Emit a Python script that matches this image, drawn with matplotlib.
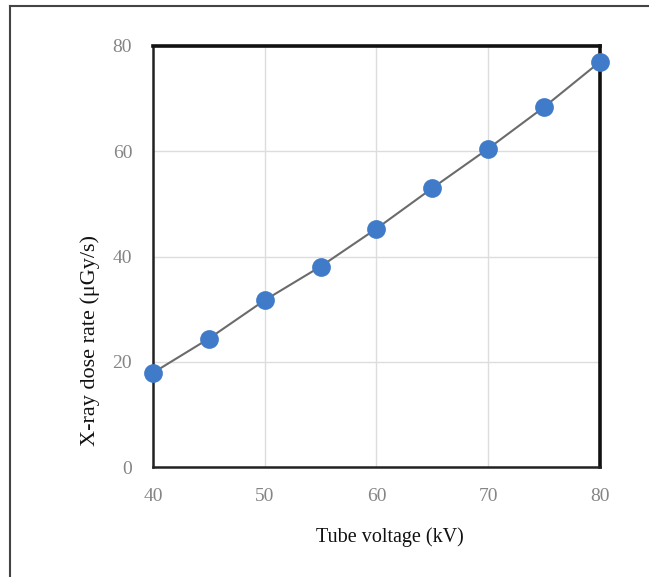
import matplotlib
matplotlib.use("Agg")
import matplotlib.pyplot as plt
from matplotlib.lines import Line2D

# tensión del tubo (kV) y tasa de dosis (uGy/s)
voltaje = [40, 45, 50, 55, 60, 65, 70, 75, 80]
dosis = [17.9, 24.4, 31.7, 38.1, 45.3, 53.0, 60.5, 68.4, 77.0]
ticks_x = [40, 50, 60, 70, 80]
ticks_y = [0, 20, 40, 60, 80]

plt.rcParams['font.family'] = ['Liberation Serif', 'DejaVu Serif']

fig = plt.figure(figsize=(6.49, 5.77), dpi=100)
ax = fig.add_axes([0.2357, 0.1906, 0.6888, 0.7297])

ax.plot(voltaje, dosis, color='#6b6b6b', linewidth=1.5, zorder=2)
ax.plot(voltaje, dosis, linestyle='none', marker='o', markersize=13.5,
        color='#3f7bc8', markeredgewidth=0, zorder=3, clip_on=False)

ax.set_xlim(40, 80)
ax.set_ylim(0, 80)
ax.set_xticks(ticks_x)
ax.set_yticks(ticks_y)
ax.grid(True, color='#dddddd', linewidth=1)
ax.set_axisbelow(True)
ax.tick_params(length=0, labelsize=14, labelcolor='#858585')
ax.tick_params(axis='x', pad=15)
ax.tick_params(axis='y', pad=15)

for lado in ['left', 'bottom']:
    ax.spines[lado].set_linewidth(1.8)
    ax.spines[lado].set_color('#222222')
for lado in ['top', 'right']:
    ax.spines[lado].set_linewidth(2.6)
    ax.spines[lado].set_color('#111111')

ax.set_xlabel("Tube voltage (kV)", fontsize=14.5, labelpad=16, color='#111111')
ax.set_ylabel("X-ray dose rate (\u03bcGy/s)", fontsize=16, labelpad=9, color='#111111')
# en el original los títulos de eje no están centrados
ax.xaxis.label.set_x(0.53)
ax.yaxis.label.set_y(0.30)

# marco exterior de la figura (solo arriba e izquierda visibles)
fig.add_artist(Line2D([10 / 649, 10 / 649], [0, 1 - 6 / 577],
                      transform=fig.transFigure, color='#444444', linewidth=1.5))
fig.add_artist(Line2D([10 / 649, 1], [1 - 6 / 577, 1 - 6 / 577],
                      transform=fig.transFigure, color='#444444', linewidth=1.5))

fig.savefig("out.png", dpi=100)
